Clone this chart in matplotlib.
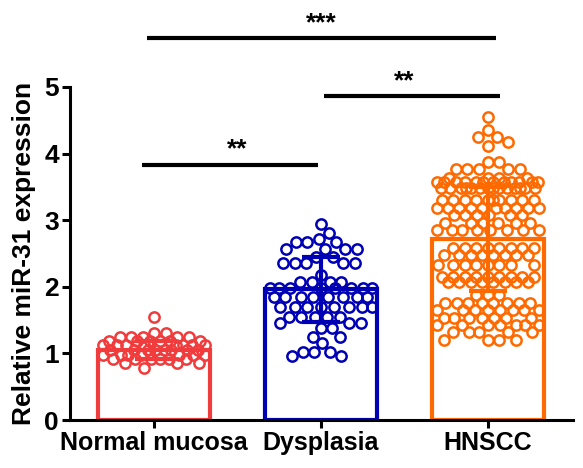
import matplotlib
matplotlib.use("Agg")
import matplotlib.pyplot as plt
import numpy as np

plt.rcParams['font.family'] = ['Liberation Sans', 'DejaVu Sans']
plt.rcParams['font.weight'] = 'bold'

categories = ["Normal mucosa", "Dysplasia", "HNSCC"]
colors = ["#F03C3C", "#0000B4", "#FF6A00"]
means = [1.05, 1.96, 2.72]
sds = [0.13, 0.49, 0.78]

normal_vals = ([1.55] + [1.30] * 2 + [1.25] * 5 + [1.18] * 6 + [1.12] * 8 + [1.05] * 8
               + [0.98] * 7 + [0.92] * 6 + [0.85] * 3 + [0.78])
dysplasia_vals = ([2.94, 2.81, 2.72] + [2.67] * 3 + [2.57] * 4 + [2.45] * 2 + [2.36] * 5
                  + [2.18] + [2.07] * 4 + [1.98] * 8 + [1.85] * 8 + [1.70] * 8 + [1.55] * 5
                  + [1.45] * 3 + [1.38] * 2 + [1.25] * 2 + [1.15] + [1.02] * 3 + [0.96] * 2)
hnscc_vals = ([4.55, 4.35] + [4.25] * 2 + [4.18, 4.12] + [3.88] * 2 + [3.77] * 5 + [3.63] * 4
              + [3.58] * 12 + [3.48] * 14 + [3.30] * 10 + [3.18] * 10 + [3.08] * 6 + [2.96] * 6
              + [2.85] * 8 + [2.58] * 8 + [2.48] * 8 + [2.33] * 8 + [2.15] * 9 + [2.07] * 8
              + [1.88] * 3 + [1.75] * 8 + [1.65] * 8 + [1.53] * 7 + [1.43] * 7 + [1.32] * 5
              + [1.20] * 4)
groups = [normal_vals, dysplasia_vals, hnscc_vals]

sig_pairs = [(0, 1, 3.83, "**"), (1, 2, 4.86, "**"), (0, 2, 5.73, "***")]
# line extents (layout)
sig_extents = [(-0.07, -0.02), (0.02, 0.07), (-0.04, 0.05)]

fig = plt.figure(figsize=(5.83, 4.68), dpi=100)
ax = fig.add_axes([70 / 583, 48 / 468, 503 / 583, 333 / 468])
ax.set_xlim(-0.503, 2.509)
ax.set_ylim(0, 5)
fig.canvas.draw()

# pixel scale from the axes transform
p0 = ax.transData.transform((0, 0))
p1 = ax.transData.transform((1, 1))
px_x = p1[0] - p0[0]
px_y = p1[1] - p0[1]

bar_w = 0.67
ax.bar(range(3), means, width=bar_w, facecolor='white', edgecolor=colors,
       linewidth=3.0, zorder=2)


def swarm(vals, center, diam=11.5, half_w=51.0):
    order = sorted(vals, reverse=True)
    placed = []
    xs, ys = [], []
    cands = np.arange(0, half_w + 0.01, 0.5)
    cands = np.concatenate([[0.0], np.ravel(np.column_stack([cands[1:], -cands[1:]]))])
    for v in order:
        yp = v * px_y
        pts = np.array(placed) if placed else np.zeros((0, 2))
        best = None
        best_score = -1
        for c in cands:
            if len(pts):
                d = np.min(np.hypot(pts[:, 0] - c, pts[:, 1] - yp))
            else:
                d = 1e9
            if d >= diam:
                best = c
                break
            if d > best_score + 1e-9:
                best_score = d
                best_c = c
        if best is None:
            best = best_c
        placed.append((best, yp))
        xs.append(center + best / px_x)
        ys.append(v)
    return xs, ys


for i, vals in enumerate(groups):
    xs, ys = swarm(vals, i)
    ax.plot(xs, ys, linestyle='none', marker='o', markersize=7.4,
            markerfacecolor='none', markeredgecolor=colors[i],
            markeredgewidth=1.8, zorder=3, clip_on=False)
    ax.errorbar([i], [means[i]], yerr=[sds[i]], color=colors[i], elinewidth=3.0,
                capsize=14, capthick=3.0, zorder=4, fmt='none')

for (a, b, y, lab), (ea, eb) in zip(sig_pairs, sig_extents):
    ax.plot([a + ea, b + eb], [y, y], color='black', linewidth=3.0,
            clip_on=False, solid_capstyle='butt')
    ax.text((a + b) / 2, y + 0.05, lab, ha='center', va='bottom',
            fontsize=19, fontweight='bold', clip_on=False)

for s in ['top', 'right']:
    ax.spines[s].set_visible(False)
for s in ['left', 'bottom']:
    ax.spines[s].set_linewidth(2.2)
ax.set_xticks(range(3))
ax.set_xticklabels(categories, fontsize=18, fontweight='bold')
ax.set_yticks(range(6))
ax.set_yticklabels([str(t) for t in range(6)], fontsize=19, fontweight='bold')
ax.tick_params(axis='both', length=6, width=2.2, pad=2)
ax.set_ylabel("Relative miR-31 expression", fontsize=19, fontweight='bold', labelpad=6)

fig.savefig("out.png", dpi=100)
